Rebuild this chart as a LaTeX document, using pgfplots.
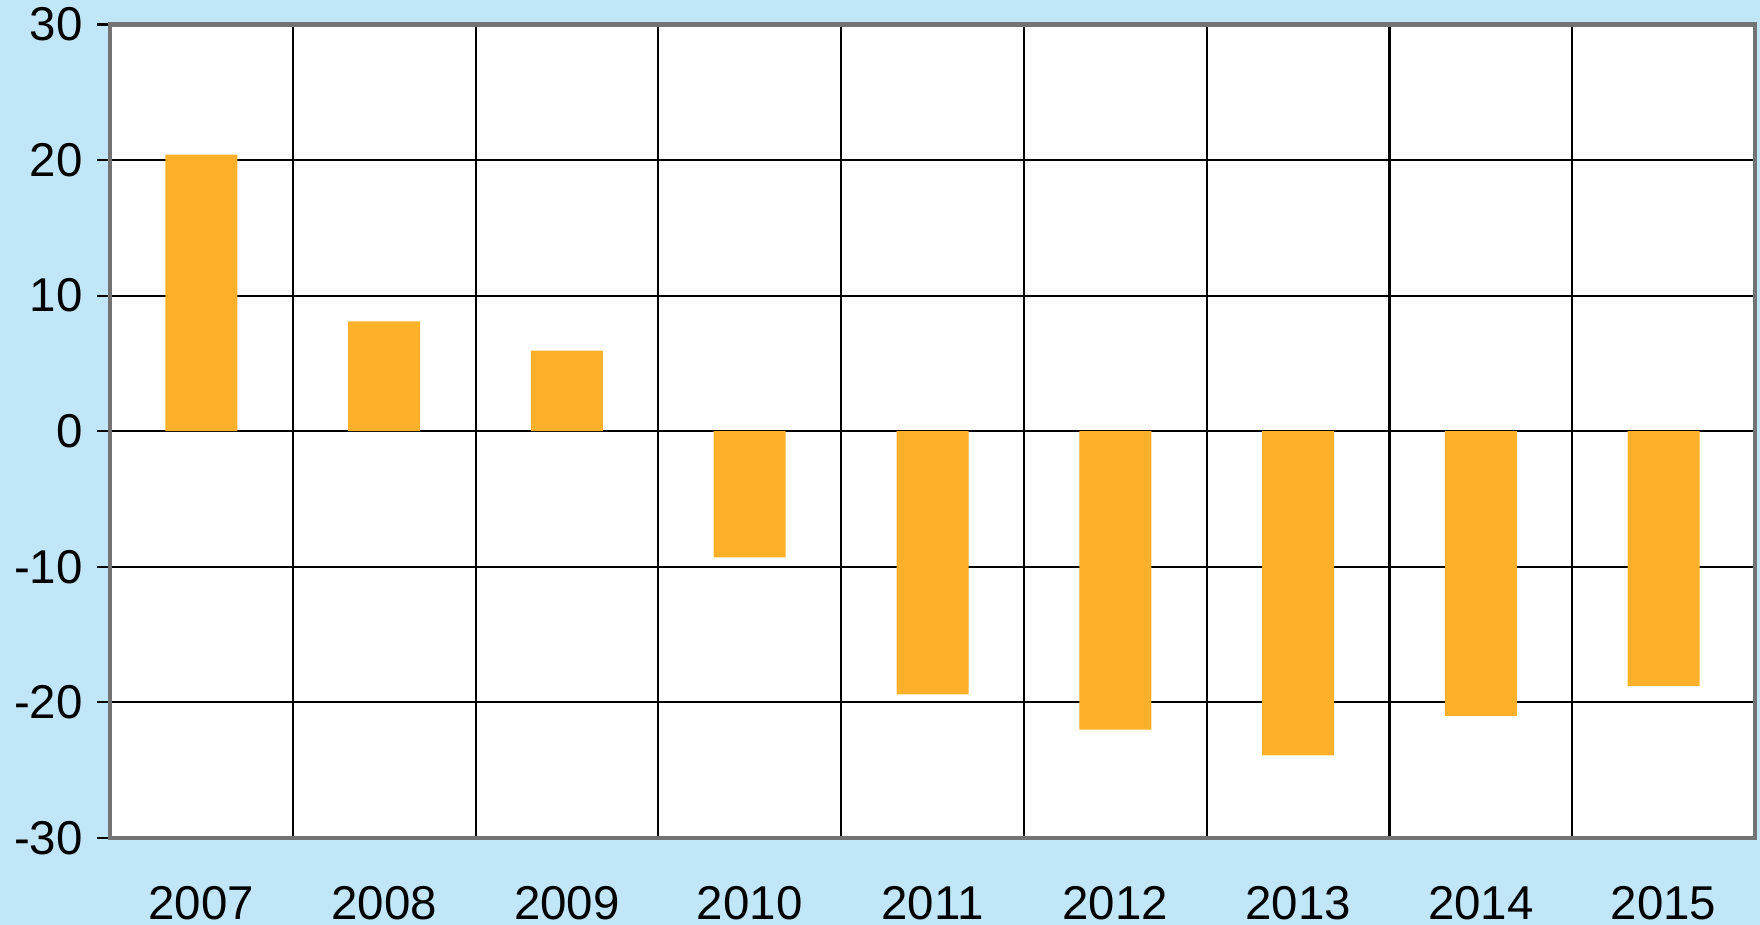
\documentclass[border=0pt]{standalone}
\usepackage{pgfplots}
\pgfplotsset{compat=1.18}
\usepackage{fontspec}
\setmainfont{Liberation Sans}
\definecolor{bgblue}{HTML}{C0E6F7}
\definecolor{barorange}{HTML}{FDB02A}
\begin{document}
\begin{tikzpicture}
\useasboundingbox (0,0) rectangle (17.6cm,9.25cm);
\fill[bgblue] (0,0) rectangle (17.6cm,9.25cm);
\begin{axis}[
  at={(1.10cm,0.87cm)}, anchor=south west,
  scale only axis, width=16.45cm, height=8.135cm,
  ymin=-30, ymax=30, ytick={-30,-20,...,30},
  xmin=-0.5, xmax=8.5,
  xtick={0,...,8},
  xticklabels={2007,2008,2009,2010,2011,2012,2013,2014,2015},
  minor xtick={-0.5,0.5,...,8.5},
  xminorgrids=true, ymajorgrids=true,
  grid style={black, line width=0.6pt},
  minor grid style={black, line width=0.6pt},
  axis line style={draw=gray!90!black, line width=1.2pt},
  axis background/.style={fill=white},
  tick style={black, line width=0.6pt},
  major tick length=0.13cm,
  xtick style={draw=none},
  minor tick length=0pt,
  ytick align=outside,
  ytick pos=left,
  xtick pos=bottom,
  /pgf/number format/assume math mode=true,
  tick label style={font=\fontsize{13.5}{15}\selectfont, black},
  yticklabel style={xshift=-0.02cm},
  xticklabel style={anchor=base, inner sep=0pt, yshift=-0.69cm},
  ybar, bar width=0.72cm,
]
\addplot[fill=barorange, draw=none] coordinates {
(0,20.4) (1,8.1) (2,5.95) (3,-9.3) (4,-19.4) (5,-22.0) (6,-23.9) (7,-21.0) (8,-18.8)
};
\end{axis}
\end{tikzpicture}
\end{document}
